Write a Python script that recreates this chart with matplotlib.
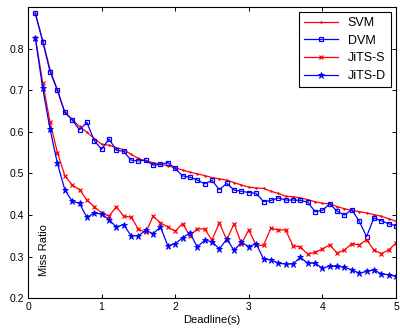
import numpy as np
import matplotlib
matplotlib.use("Agg")
import matplotlib.pyplot as plt

# deadlines in seconds, 0.1 .. 5.0
deadline = [round(0.1 * i, 1) for i in range(1, 51)]

svm = [0.885, 0.820, 0.750, 0.700, 0.647, 0.630, 0.613, 0.599, 0.584, 0.570,
       0.568, 0.562, 0.557, 0.546, 0.536, 0.530, 0.526, 0.522, 0.518, 0.514,
       0.508, 0.503, 0.499, 0.495, 0.490, 0.487, 0.484, 0.478, 0.472, 0.467,
       0.465, 0.464, 0.457, 0.452, 0.445, 0.444, 0.441, 0.437, 0.432, 0.428,
       0.427, 0.420, 0.415, 0.411, 0.408, 0.405, 0.401, 0.397, 0.391, 0.385]

dvm = [0.885, 0.817, 0.745, 0.700, 0.647, 0.629, 0.605, 0.623, 0.579, 0.558,
       0.583, 0.556, 0.553, 0.532, 0.530, 0.532, 0.520, 0.522, 0.526, 0.512,
       0.494, 0.491, 0.484, 0.475, 0.483, 0.461, 0.476, 0.460, 0.457, 0.454,
       0.452, 0.432, 0.435, 0.441, 0.436, 0.436, 0.435, 0.431, 0.408, 0.411,
       0.427, 0.409, 0.400, 0.413, 0.385, 0.348, 0.393, 0.386, 0.379, 0.374]

jits_s = [0.827, 0.718, 0.623, 0.550, 0.495, 0.472, 0.461, 0.436, 0.420, 0.405,
          0.397, 0.420, 0.397, 0.395, 0.366, 0.358, 0.397, 0.381, 0.371, 0.361,
          0.379, 0.350, 0.367, 0.366, 0.340, 0.381, 0.340, 0.379, 0.331, 0.364,
          0.327, 0.327, 0.368, 0.364, 0.364, 0.326, 0.323, 0.306, 0.310, 0.318,
          0.328, 0.308, 0.316, 0.331, 0.328, 0.340, 0.316, 0.307, 0.316, 0.332]

jits_d = [0.825, 0.705, 0.606, 0.524, 0.461, 0.433, 0.428, 0.394, 0.405, 0.402,
          0.389, 0.371, 0.377, 0.350, 0.350, 0.363, 0.355, 0.371, 0.326, 0.331,
          0.345, 0.357, 0.323, 0.339, 0.336, 0.318, 0.342, 0.315, 0.334, 0.324,
          0.331, 0.294, 0.292, 0.284, 0.282, 0.282, 0.298, 0.284, 0.284, 0.272,
          0.277, 0.276, 0.274, 0.268, 0.260, 0.264, 0.268, 0.258, 0.256, 0.252]

plt.rcParams["font.family"] = ["Liberation Sans", "DejaVu Sans"]

fig = plt.figure(figsize=(4.0, 3.29), dpi=100)
ax = fig.add_axes([0.07, 0.094, 0.92, 0.884])

ax.plot(deadline, svm, color="red", lw=0.9, marker=".", ms=1.5, label="SVM")
ax.plot(deadline, dvm, color="blue", lw=0.9, marker="s", ms=3.5, mfc="none",
        mew=0.9, label="DVM")
ax.plot(deadline, jits_s, color="red", lw=0.9, marker="x", ms=3.2, mew=0.9,
        label="JiTS-S")
ax.plot(deadline, jits_d, color="blue", lw=0.9, marker="*", ms=4.5, mew=0.6,
        label="JiTS-D")

ax.set_xlim(0, 5)
ax.set_ylim(0.2, 0.9)
ax.set_xticks([0, 1, 2, 3, 4, 5])
ax.set_yticks([0.2, 0.3, 0.4, 0.5, 0.6, 0.7, 0.8])
ax.tick_params(direction="in", top=True, right=True, labelsize=7.5,
               length=3, width=0.7, pad=3)
for spine in ax.spines.values():
    spine.set_linewidth(0.8)

ax.set_xlabel("Deadline(s)", fontsize=8, labelpad=2)
ax.text(0.043, 0.165, "Miss Ratio", transform=ax.transAxes, rotation=90,
        ha="center", va="center", fontsize=8)

leg = ax.legend(loc="upper right", fontsize=9, fancybox=False,
                edgecolor="black", framealpha=1, borderpad=0.4,
                handlelength=2.7, handletextpad=0.8, labelspacing=0.45,
                borderaxespad=0.4)
leg.get_frame().set_linewidth(0.8)

fig.savefig("out.png", dpi=100)
